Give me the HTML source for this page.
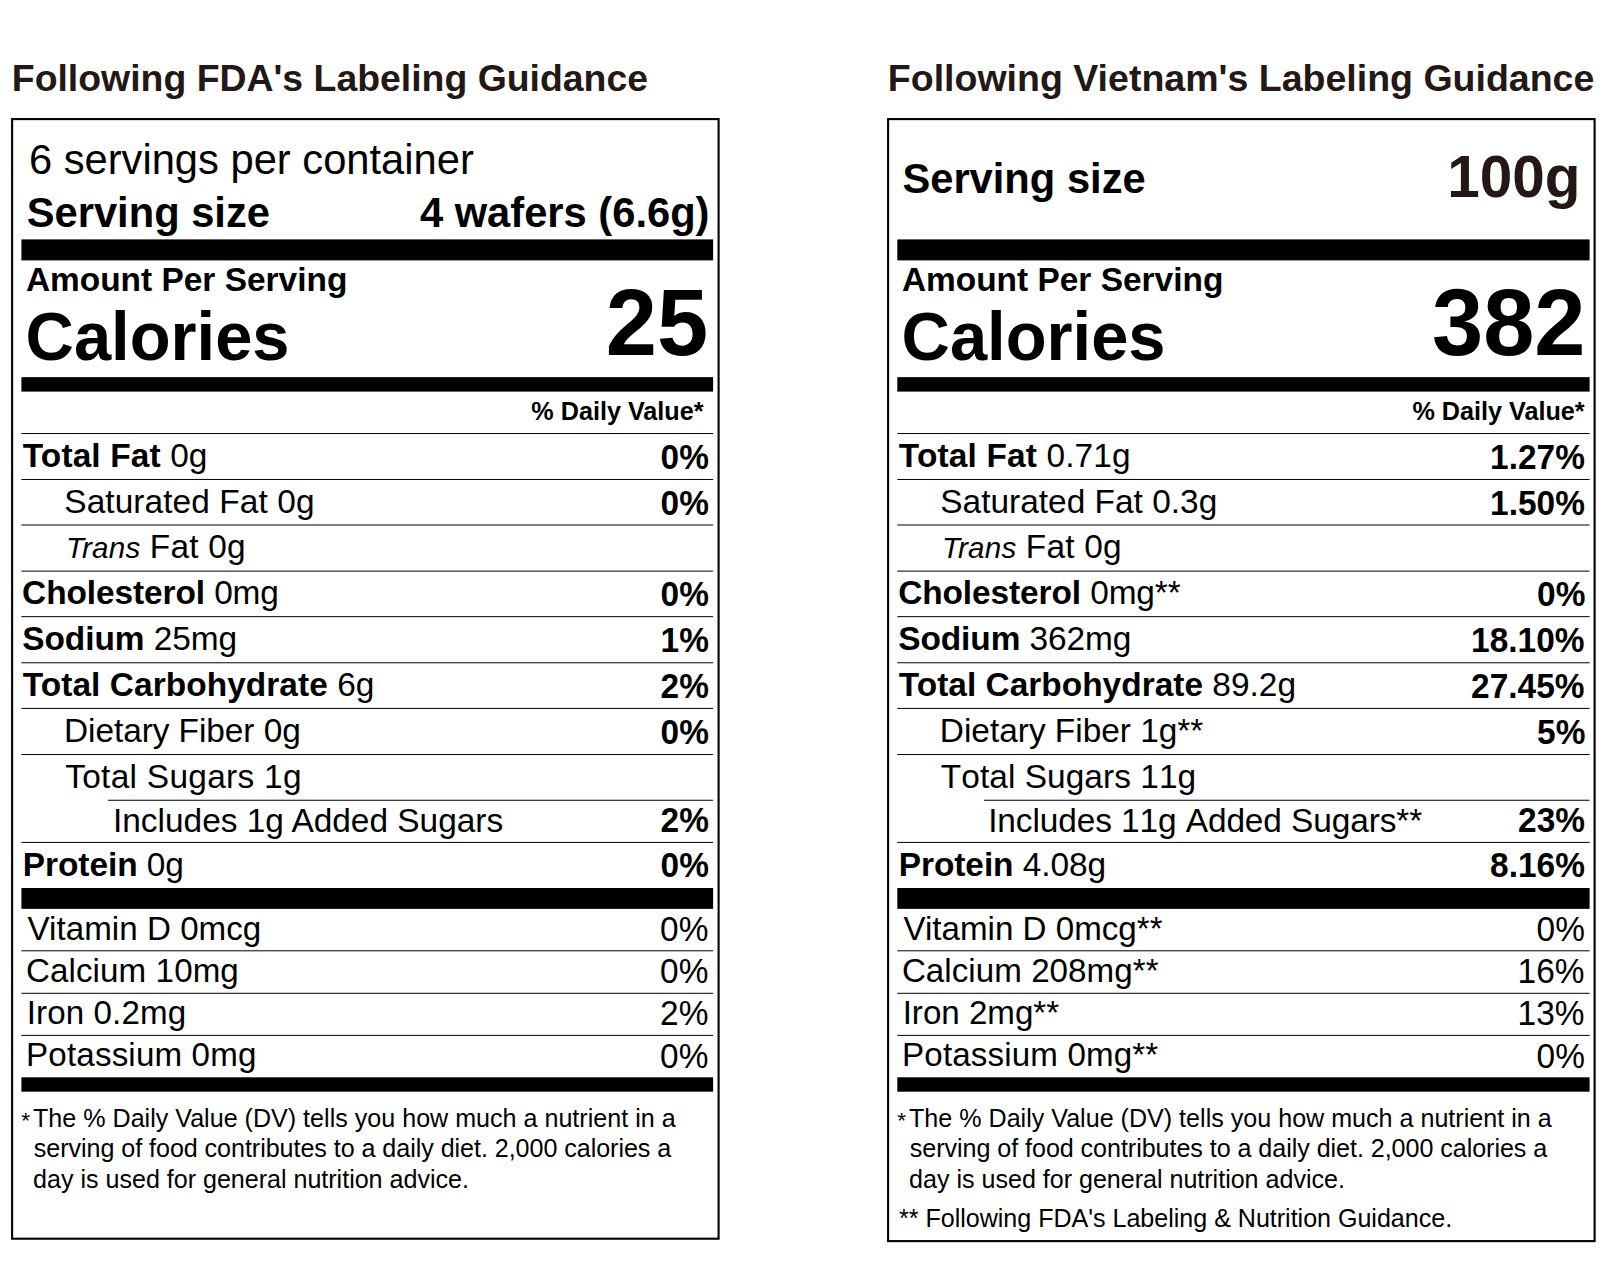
<!DOCTYPE html>
<html lang="en"><head><meta charset="utf-8"><title>Nutrition Facts labels</title>
<style>html,body{margin:0;padding:0;background:#fff}
body{width:1622px;height:1265px;position:relative;overflow:hidden;font-family:"Liberation Sans", sans-serif;color:#000}
.gfx{position:absolute;left:0;top:0}
.t{position:absolute;white-space:nowrap;margin:0;padding:0}
b{font-weight:bold}i{font-style:italic}</style></head><body>
<svg class="gfx" width="1622" height="1265" viewBox="0 0 1622 1265" aria-hidden="true"><rect x="12.1" y="119.1" width="706.5" height="1119.60" fill="none" stroke="#000" stroke-width="2.1"/><rect x="21.4" y="239.4" width="691.70" height="21.00" fill="#000"/><rect x="21.4" y="377.15" width="691.70" height="14.45" fill="#000"/><rect x="21.4" y="888.0" width="691.70" height="20.85" fill="#000"/><rect x="21.4" y="1077.3" width="691.70" height="14.40" fill="#000"/><rect x="21.4" y="433.04" width="691.70" height="1" fill="#000"/><rect x="21.4" y="478.96" width="691.70" height="1" fill="#000"/><rect x="21.4" y="524.50" width="691.70" height="1" fill="#000"/><rect x="21.4" y="570.60" width="691.70" height="1" fill="#000"/><rect x="21.4" y="616.15" width="691.70" height="1" fill="#000"/><rect x="21.4" y="662.26" width="691.70" height="1" fill="#000"/><rect x="21.4" y="707.91" width="691.70" height="1" fill="#000"/><rect x="21.4" y="754.02" width="691.70" height="1" fill="#000"/><rect x="108.0" y="799.75" width="605.10" height="1" fill="#000"/><rect x="21.4" y="841.90" width="691.70" height="1" fill="#000"/><rect x="21.4" y="950.30" width="691.70" height="1" fill="#000"/><rect x="21.4" y="992.80" width="691.70" height="1" fill="#000"/><rect x="21.4" y="1034.90" width="691.70" height="1" fill="#000"/><rect x="888.1" y="119.1" width="706.5" height="1122.00" fill="none" stroke="#000" stroke-width="2.1"/><rect x="897.3" y="239.4" width="692.30" height="21.00" fill="#000"/><rect x="897.3" y="377.15" width="692.30" height="14.45" fill="#000"/><rect x="897.3" y="888.0" width="692.30" height="20.85" fill="#000"/><rect x="897.3" y="1077.3" width="692.30" height="14.40" fill="#000"/><rect x="897.3" y="433.04" width="692.30" height="1" fill="#000"/><rect x="897.3" y="478.96" width="692.30" height="1" fill="#000"/><rect x="897.3" y="524.50" width="692.30" height="1" fill="#000"/><rect x="897.3" y="570.60" width="692.30" height="1" fill="#000"/><rect x="897.3" y="616.15" width="692.30" height="1" fill="#000"/><rect x="897.3" y="662.26" width="692.30" height="1" fill="#000"/><rect x="897.3" y="707.91" width="692.30" height="1" fill="#000"/><rect x="897.3" y="754.02" width="692.30" height="1" fill="#000"/><rect x="984.0" y="799.75" width="605.60" height="1" fill="#000"/><rect x="897.3" y="841.90" width="692.30" height="1" fill="#000"/><rect x="897.3" y="950.30" width="692.30" height="1" fill="#000"/><rect x="897.3" y="992.80" width="692.30" height="1" fill="#000"/><rect x="897.3" y="1034.90" width="692.30" height="1" fill="#000"/></svg>
<section class="panel" aria-label="FDA label">
<h2 class="t" style="left:11.80px;top:56.00px;font-size:37.4px;line-height:45px;font-weight:bold;color:#231815">Following FDA's Labeling Guidance</h2>
<div class="t" style="left:28.90px;top:135.00px;font-size:41.7px;line-height:50px">6 servings per container</div>
<div class="t" style="left:26.70px;top:188.00px;font-size:41.7px;line-height:50px;font-weight:bold">Serving size</div>
<div class="t" style="left:419.90px;top:188.00px;font-size:41.7px;line-height:50px;font-weight:bold">4 wafers (6.6g)</div>
<div class="t" style="left:25.90px;top:260.00px;font-size:33.45px;line-height:40px;font-weight:bold">Amount Per Serving</div>
<div class="t" style="left:25.60px;top:297.00px;font-size:66.9px;line-height:80px;transform-origin:0 63.00px;transform:scaleY(1.025);font-weight:bold">Calories</div>
<div class="t" style="left:605.80px;top:268.00px;font-size:92.0px;line-height:110px;transform-origin:0 87.00px;transform:scaleY(1.035);font-weight:bold">25</div>
<div class="t" style="left:531.30px;top:396.00px;font-size:25.2px;line-height:30px;font-weight:bold">% Daily Value*</div>
<div class="t" style="left:22.80px;top:436.00px;font-size:33.44px;line-height:40px;letter-spacing:0.127px"><b>Total Fat</b> 0g</div>
<div class="t" style="left:660.60px;top:438.00px;font-size:33.44px;line-height:40px;transform-origin:0 31.00px;transform:scaleY(1.035);font-weight:bold">0%</div>
<div class="t" style="left:64.30px;top:482.00px;font-size:33.44px;line-height:40px;letter-spacing:0.080px">Saturated Fat 0g</div>
<div class="t" style="left:660.60px;top:484.00px;font-size:33.44px;line-height:40px;transform-origin:0 31.00px;transform:scaleY(1.035);font-weight:bold">0%</div>
<div class="t" style="left:66.00px;top:527.00px;font-size:33.44px;line-height:40px;letter-spacing:0.182px"><i style="font-size:29.6px">Trans</i> Fat 0g</div>
<div class="t" style="left:22.10px;top:573.00px;font-size:33.44px;line-height:40px;letter-spacing:-0.093px"><b>Cholesterol</b> 0mg</div>
<div class="t" style="left:660.60px;top:575.00px;font-size:33.44px;line-height:40px;transform-origin:0 31.00px;transform:scaleY(1.035);font-weight:bold">0%</div>
<div class="t" style="left:22.30px;top:619.00px;font-size:33.44px;line-height:40px;letter-spacing:-0.070px"><b>Sodium</b> 25mg</div>
<div class="t" style="left:660.60px;top:621.00px;font-size:33.44px;line-height:40px;transform-origin:0 31.00px;transform:scaleY(1.035);font-weight:bold">1%</div>
<div class="t" style="left:22.80px;top:665.00px;font-size:33.44px;line-height:40px;letter-spacing:0.060px"><b>Total Carbohydrate</b> 6g</div>
<div class="t" style="left:660.60px;top:667.00px;font-size:33.44px;line-height:40px;transform-origin:0 31.00px;transform:scaleY(1.035);font-weight:bold">2%</div>
<div class="t" style="left:64.00px;top:711.00px;font-size:33.44px;line-height:40px;letter-spacing:-0.067px">Dietary Fiber 0g</div>
<div class="t" style="left:660.60px;top:713.00px;font-size:33.44px;line-height:40px;transform-origin:0 31.00px;transform:scaleY(1.035);font-weight:bold">0%</div>
<div class="t" style="left:65.20px;top:757.00px;font-size:33.44px;line-height:40px;letter-spacing:0.293px">Total Sugars 1g</div>
<div class="t" style="left:113.00px;top:801.00px;font-size:33.44px;line-height:40px;letter-spacing:0.000px">Includes 1g Added Sugars</div>
<div class="t" style="left:660.60px;top:801.00px;font-size:33.44px;line-height:40px;transform-origin:0 31.00px;transform:scaleY(1.035);font-weight:bold">2%</div>
<div class="t" style="left:22.80px;top:845.00px;font-size:33.44px;line-height:40px;letter-spacing:-0.056px"><b>Protein</b> 0g</div>
<div class="t" style="left:660.60px;top:846.00px;font-size:33.44px;line-height:40px;transform-origin:0 31.00px;transform:scaleY(1.035);font-weight:bold">0%</div>
<div class="t" style="left:27.50px;top:909.00px;font-size:33.15px;line-height:40px;letter-spacing:0.038px">Vitamin D 0mcg</div>
<div class="t" style="left:660.10px;top:910.00px;font-size:33.44px;line-height:40px;transform-origin:0 31.00px;transform:scaleY(1.035)">0%</div>
<div class="t" style="left:25.90px;top:951.00px;font-size:33.15px;line-height:40px;letter-spacing:0.100px">Calcium 10mg</div>
<div class="t" style="left:660.10px;top:952.00px;font-size:33.44px;line-height:40px;transform-origin:0 31.00px;transform:scaleY(1.035)">0%</div>
<div class="t" style="left:26.70px;top:993.00px;font-size:33.15px;line-height:40px;letter-spacing:0.111px">Iron 0.2mg</div>
<div class="t" style="left:660.10px;top:994.00px;font-size:33.44px;line-height:40px;transform-origin:0 31.00px;transform:scaleY(1.035)">2%</div>
<div class="t" style="left:26.10px;top:1035.00px;font-size:33.15px;line-height:40px;letter-spacing:0.158px">Potassium 0mg</div>
<div class="t" style="left:660.10px;top:1037.00px;font-size:33.44px;line-height:40px;transform-origin:0 31.00px;transform:scaleY(1.035)">0%</div>
<div class="t" style="left:33.00px;top:1103.00px;font-size:25.1px;line-height:30px;letter-spacing:0.002px">The % Daily Value (DV) tells you how much a nutrient in a</div>
<div class="t" style="left:33.80px;top:1133.00px;font-size:25.1px;line-height:30px;letter-spacing:-0.047px">serving of food contributes to a daily diet. 2,000 calories a</div>
<div class="t" style="left:33.10px;top:1164.00px;font-size:25.1px;line-height:30px;letter-spacing:-0.020px">day is used for general nutrition advice.</div>
<div class="t" style="left:21.30px;top:1107.00px;font-size:22.6px;line-height:27px">*</div>
</section>
<section class="panel" aria-label="Vietnam label">
<h2 class="t" style="left:887.80px;top:56.00px;font-size:37.53px;line-height:45px;font-weight:bold;color:#231815">Following Vietnam's Labeling Guidance</h2>
<div class="t" style="left:902.40px;top:154.00px;font-size:41.7px;line-height:50px;font-weight:bold">Serving size</div>
<div class="t" style="left:1447.20px;top:142.00px;font-size:58.5px;line-height:70px;transform-origin:0 55.00px;transform:scaleY(1.015);font-weight:bold;color:#231815">100g</div>
<div class="t" style="left:901.90px;top:260.00px;font-size:33.45px;line-height:40px;font-weight:bold">Amount Per Serving</div>
<div class="t" style="left:901.60px;top:297.00px;font-size:66.9px;line-height:80px;transform-origin:0 63.00px;transform:scaleY(1.025);font-weight:bold">Calories</div>
<div class="t" style="left:1432.00px;top:268.00px;font-size:92.0px;line-height:110px;transform-origin:0 87.00px;transform:scaleY(1.035);font-weight:bold">382</div>
<div class="t" style="left:1412.40px;top:396.00px;font-size:25.2px;line-height:30px;font-weight:bold">% Daily Value*</div>
<div class="t" style="left:898.80px;top:436.00px;font-size:33.44px;line-height:40px;letter-spacing:0.157px"><b>Total Fat</b> 0.71g</div>
<div class="t" style="left:1490.10px;top:438.00px;font-size:33.44px;line-height:40px;transform-origin:0 31.00px;transform:scaleY(1.035);font-weight:bold">1.27%</div>
<div class="t" style="left:940.30px;top:482.00px;font-size:33.44px;line-height:40px;letter-spacing:0.006px">Saturated Fat 0.3g</div>
<div class="t" style="left:1490.10px;top:484.00px;font-size:33.44px;line-height:40px;transform-origin:0 31.00px;transform:scaleY(1.035);font-weight:bold">1.50%</div>
<div class="t" style="left:942.00px;top:527.00px;font-size:33.44px;line-height:40px;letter-spacing:0.182px"><i style="font-size:29.6px">Trans</i> Fat 0g</div>
<div class="t" style="left:898.20px;top:573.00px;font-size:33.44px;line-height:40px;letter-spacing:-0.100px"><b>Cholesterol</b> 0mg**</div>
<div class="t" style="left:1537.10px;top:575.00px;font-size:33.44px;line-height:40px;transform-origin:0 31.00px;transform:scaleY(1.035);font-weight:bold">0%</div>
<div class="t" style="left:898.20px;top:619.00px;font-size:33.44px;line-height:40px;letter-spacing:-0.073px"><b>Sodium</b> 362mg</div>
<div class="t" style="left:1471.10px;top:621.00px;font-size:33.44px;line-height:40px;transform-origin:0 31.00px;transform:scaleY(1.035);font-weight:bold">18.10%</div>
<div class="t" style="left:898.80px;top:665.00px;font-size:33.44px;line-height:40px;letter-spacing:0.017px"><b>Total Carbohydrate</b> 89.2g</div>
<div class="t" style="left:1471.10px;top:667.00px;font-size:33.44px;line-height:40px;transform-origin:0 31.00px;transform:scaleY(1.035);font-weight:bold">27.45%</div>
<div class="t" style="left:939.80px;top:711.00px;font-size:33.44px;line-height:40px;letter-spacing:-0.012px">Dietary Fiber 1g**</div>
<div class="t" style="left:1537.10px;top:713.00px;font-size:33.44px;line-height:40px;transform-origin:0 31.00px;transform:scaleY(1.035);font-weight:bold">5%</div>
<div class="t" style="left:940.80px;top:757.00px;font-size:33.44px;line-height:40px;font-kerning:none;letter-spacing:0.053px">Total Sugars 11g</div>
<div class="t" style="left:988.20px;top:801.00px;font-size:33.44px;line-height:40px;font-kerning:none;letter-spacing:-0.100px">Includes 11g Added Sugars**</div>
<div class="t" style="left:1518.10px;top:801.00px;font-size:33.44px;line-height:40px;transform-origin:0 31.00px;transform:scaleY(1.035);font-weight:bold">23%</div>
<div class="t" style="left:898.80px;top:845.00px;font-size:33.44px;line-height:40px;letter-spacing:-0.067px"><b>Protein</b> 4.08g</div>
<div class="t" style="left:1490.10px;top:846.00px;font-size:33.44px;line-height:40px;transform-origin:0 31.00px;transform:scaleY(1.035);font-weight:bold">8.16%</div>
<div class="t" style="left:903.50px;top:909.00px;font-size:33.15px;line-height:40px;letter-spacing:0.000px">Vitamin D 0mcg**</div>
<div class="t" style="left:1536.60px;top:910.00px;font-size:33.44px;line-height:40px;transform-origin:0 31.00px;transform:scaleY(1.035)">0%</div>
<div class="t" style="left:901.90px;top:951.00px;font-size:33.15px;line-height:40px;letter-spacing:0.043px">Calcium 208mg**</div>
<div class="t" style="left:1517.60px;top:952.00px;font-size:33.44px;line-height:40px;transform-origin:0 31.00px;transform:scaleY(1.035)">16%</div>
<div class="t" style="left:902.70px;top:993.00px;font-size:33.15px;line-height:40px;letter-spacing:-0.022px">Iron 2mg**</div>
<div class="t" style="left:1517.60px;top:994.00px;font-size:33.44px;line-height:40px;transform-origin:0 31.00px;transform:scaleY(1.035)">13%</div>
<div class="t" style="left:902.10px;top:1035.00px;font-size:33.15px;line-height:40px;letter-spacing:0.136px">Potassium 0mg**</div>
<div class="t" style="left:1536.60px;top:1037.00px;font-size:33.44px;line-height:40px;transform-origin:0 31.00px;transform:scaleY(1.035)">0%</div>
<div class="t" style="left:909.00px;top:1103.00px;font-size:25.1px;line-height:30px;letter-spacing:0.002px">The % Daily Value (DV) tells you how much a nutrient in a</div>
<div class="t" style="left:909.80px;top:1133.00px;font-size:25.1px;line-height:30px;letter-spacing:-0.047px">serving of food contributes to a daily diet. 2,000 calories a</div>
<div class="t" style="left:909.10px;top:1164.00px;font-size:25.1px;line-height:30px;letter-spacing:-0.020px">day is used for general nutrition advice.</div>
<div class="t" style="left:897.30px;top:1107.00px;font-size:22.6px;line-height:27px">*</div>
<div class="t" style="left:899.00px;top:1203.00px;font-size:25.1px;line-height:30px;letter-spacing:-0.025px">** Following FDA's Labeling &amp; Nutrition Guidance.</div>
</section>
</body></html>
